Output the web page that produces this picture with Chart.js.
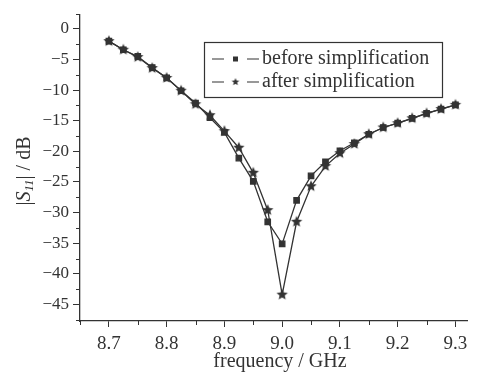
<!DOCTYPE html>
<html>
<head>
<meta charset="utf-8">
<script src="https://cdn.jsdelivr.net/npm/chart.js@4"></script>
<style>
  html,body{margin:0;padding:0;background:#fff}
  #wrap{width:478px;height:375px;position:relative}
</style>
</head>
<body>
<div id="wrap"><canvas id="c" width="478" height="375"></canvas></div>
<script>
const freq = [8.7,8.725,8.75,8.775,8.8,8.825,8.85,8.875,8.9,8.925,8.95,8.975,9.0,9.025,9.05,9.075,9.1,9.125,9.15,9.175,9.2,9.225,9.25,9.275,9.3]
const before = [-2.0,-3.4,-4.5,-6.3,-8.0,-10.1,-12.1,-14.5,-16.9,-21.1,-24.9,-31.5,-35.1,-28.0,-24.0,-21.7,-19.9,-18.6,-17.2,-16.1,-15.4,-14.6,-13.8,-13.1,-12.4]
const after = [-2.0,-3.4,-4.6,-6.4,-8.0,-10.1,-12.3,-14.1,-16.7,-19.4,-23.5,-29.6,-43.4,-31.5,-25.7,-22.4,-20.3,-18.8,-17.2,-16.1,-15.4,-14.6,-13.8,-13.1,-12.4]
const seriesNames = ['before simplification','after simplification']
const xTicks = [8.7,8.8,8.9,9.0,9.1,9.2,9.3]
const yTicks = [0,-5,-10,-15,-20,-25,-30,-35,-40,-45]
const xMinor = [8.65,8.75,8.85,8.95,9.05,9.15,9.25]
const yMinor = [2.5,-2.5,-7.5,-12.5,-17.5,-22.5,-27.5,-32.5,-37.5,-42.5,-47.5]

const ink = '#333'
const serif = "'Liberation Serif', 'DejaVu Serif', serif"

// filled five-point star used as point style
function starImg(r){
  const c = document.createElement('canvas')
  const s = Math.ceil(r*2+2)
  c.width = s; c.height = s
  const g = c.getContext('2d')
  g.fillStyle = ink
  g.beginPath()
  for(let i=0;i<10;i++){
    const rr = i%2 ? r*0.45 : r
    const a = -Math.PI/2 + i*Math.PI/5
    const px = s/2 + rr*Math.cos(a), py = s/2 + rr*Math.sin(a)
    i ? g.lineTo(px,py) : g.moveTo(px,py)
  }
  g.closePath(); g.fill()
  return c
}
const star = starImg(6)
const starSmall = starImg(4)

/* minor ticks on both axes */
const minorTicks = {
  id:'minorTicks',
  afterDraw(chart){
    const {ctx, scales:{x,y}} = chart
    ctx.save()
    ctx.strokeStyle = ink; ctx.lineWidth = 1
    ctx.beginPath()
    xMinor.forEach(v=>{
      const px = Math.round(x.getPixelForValue(v))+0.5
      ctx.moveTo(px, y.bottom); ctx.lineTo(px, y.bottom+4)
    })
    yMinor.forEach(v=>{
      const py = Math.round(y.getPixelForValue(v))+0.5
      ctx.moveTo(x.left-4, py); ctx.lineTo(x.left, py)
    })
    ctx.stroke()
    ctx.restore()
  }
}

/* boxed legend inside the plot */
const boxLegend = {
  id:'boxLegend',
  afterDraw(chart){
    const ctx = chart.ctx
    const bx = 204, by = 42, bw = 238, bh = 55
    ctx.save()
    ctx.strokeStyle = ink; ctx.lineWidth = 1.2
    ctx.strokeRect(bx+0.5, by+0.5, bw, bh)
    const rows = [by+17, by+40]
    const marks = ['rect', starSmall]
    rows.forEach((ry,i)=>{
      ctx.beginPath()
      ctx.moveTo(bx+8, ry); ctx.lineTo(bx+20, ry)
      ctx.moveTo(bx+43, ry); ctx.lineTo(bx+55, ry)
      ctx.stroke()
      ctx.fillStyle = ink
      if(marks[i]==='rect') ctx.fillRect(bx+29, ry-2.5, 5, 5)
      else ctx.drawImage(marks[i], bx+31.5-marks[i].width/2, ry-marks[i].height/2)
      ctx.font = '20px '+serif
      ctx.textBaseline = 'middle'
      ctx.fillText(seriesNames[i], bx+58, ry)
    })
    ctx.restore()
  }
}

/* rotated y title with italic S and subscript */
const yTitle = {
  id:'yTitle',
  afterDraw(chart){
    const ctx = chart.ctx
    const parts = [
      {t:'|', f:'20px '+serif, dy:0},
      {t:'S', f:'italic 20px '+serif, dy:0},
      {t:'11', f:'italic 13px '+serif, dy:5},
      {t:'| / dB', f:'20px '+serif, dy:0}
    ]
    ctx.save()
    let w = 0
    parts.forEach(p=>{ctx.font=p.f; p.w=ctx.measureText(p.t).width; w+=p.w})
    ctx.translate(25, 171)
    ctx.rotate(-Math.PI/2)
    ctx.fillStyle = ink
    ctx.textBaseline = 'middle'
    let cx = -w/2
    parts.forEach(p=>{ctx.font=p.f; ctx.fillText(p.t, cx, p.dy); cx+=p.w})
    ctx.restore()
  }
}

/* x title */
const xTitle = {
  id:'xTitle',
  afterDraw(chart){
    const ctx = chart.ctx
    ctx.save()
    ctx.font = '20px '+serif
    ctx.fillStyle = ink
    ctx.textAlign = 'center'; ctx.textBaseline = 'middle'
    ctx.fillText('frequency / GHz', 280, 362)
    ctx.restore()
  }
}

new Chart(document.getElementById('c'), {
  type:'line',
  data:{
    datasets:[
      {label:seriesNames[0], data:freq.map((f,i)=>({x:f,y:before[i]})),
       borderColor:ink, backgroundColor:ink, borderWidth:1.3,
       pointStyle:'rect', pointRadius:3.8, pointHoverRadius:3.8},
      {label:seriesNames[1], data:freq.map((f,i)=>({x:f,y:after[i]})),
       borderColor:ink, backgroundColor:ink, borderWidth:1.3,
       pointStyle:star, pointRadius:6}
    ]
  },
  options:{
    responsive:false, animation:false,
    devicePixelRatio:1,
    layout:{padding:{top:12,right:11,left:0,bottom:0}},
    plugins:{legend:{display:false}, tooltip:{enabled:false}},
    scales:{
      x:{
        type:'linear', min:8.65, max:9.32,
        afterBuildTicks: s=>{ s.ticks = xTicks.map(v=>({value:v})) },
        afterFit: s=>{ s.height = 54 },
        ticks:{autoSkip:false, maxRotation:0, padding:6, color:ink,
          font:{family:serif, size:19},
          callback: v=> Number(v).toFixed(1)},
        grid:{drawOnChartArea:false, drawTicks:true, tickLength:6, tickColor:ink, tickWidth:1},
        border:{display:true, color:ink, width:1.3}
      },
      y:{
        type:'linear', min:-47.7, max:2.4,
        afterBuildTicks: s=>{ s.ticks = yTicks.map(v=>({value:v})) },
        afterFit: s=>{ s.width = 80 },
        ticks:{autoSkip:false, padding:4, color:ink,
          font:{family:serif, size:17},
          callback: v=> v===0 ? '0' : '\u2212'+Math.abs(v)},
        grid:{drawOnChartArea:false, drawTicks:true, tickLength:7, tickColor:ink, tickWidth:1},
        border:{display:true, color:ink, width:1.3}
      }
    }
  },
  plugins:[minorTicks, boxLegend, yTitle, xTitle]
})
</script>
</body>
</html>
